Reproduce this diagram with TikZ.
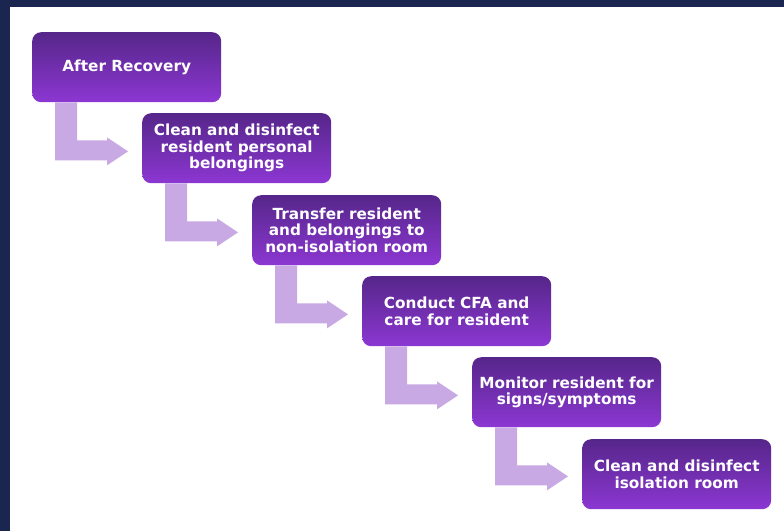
\documentclass[tikz,border=0pt]{standalone}
\usepackage{fontspec}
\setmainfont{DejaVu Sans}
\usetikzlibrary{calc}
\definecolor{navybg}{HTML}{1A2550}
\definecolor{boxtop}{HTML}{56268A}
\definecolor{boxbot}{HTML}{8C37D2}
\definecolor{arrowc}{HTML}{C9A9E4}
\newcommand\bentarrow[1]{%
  \fill[arrowc] ($(#1.south west)+(23,0)$) -- ($(#1.south west)+(45,0)$)
    -- ($(#1.south west)+(45,38)$) -- ($(#1.south west)+(75,38)$)
    -- ($(#1.south west)+(75,35)$) -- ($(#1.south west)+(96,49)$)
    -- ($(#1.south west)+(75,63)$) -- ($(#1.south west)+(75,58)$)
    -- ($(#1.south west)+(23,58)$) -- cycle;}
\begin{document}
\begin{tikzpicture}[x=1pt,y=-1pt,
  stepbox/.style={rectangle, rounded corners=9pt, minimum width=189pt,
    minimum height=70pt, top color=boxtop, bottom color=boxbot, draw=none,
    text=white, align=center, font=\fontsize{15.3}{16.5}\selectfont\bfseries,
    anchor=north west, inner sep=0pt}]
\useasboundingbox (0,0) rectangle (784,531);
\fill[navybg] (0,0) rectangle (784,531);
\fill[white] (10,7) rectangle (784,531);
\node[stepbox] (s1) at (32,32) {After Recovery};
\node[stepbox] (s2) at (142,113) {Clean and disinfect\\resident personal\\belongings};
\node[stepbox] (s3) at (252,195) {Transfer resident\\and belongings to\\non-isolation room};
\node[stepbox] (s4) at (362,276) {Conduct CFA and\\care for resident};
\node[stepbox] (s5) at (472,357) {Monitor resident for\\signs/symptoms};
\node[stepbox] (s6) at (582,439) {Clean and disinfect\\isolation room};
\bentarrow{s1}
\bentarrow{s2}
\bentarrow{s3}
\bentarrow{s4}
\bentarrow{s5}
\end{tikzpicture}
\end{document}
